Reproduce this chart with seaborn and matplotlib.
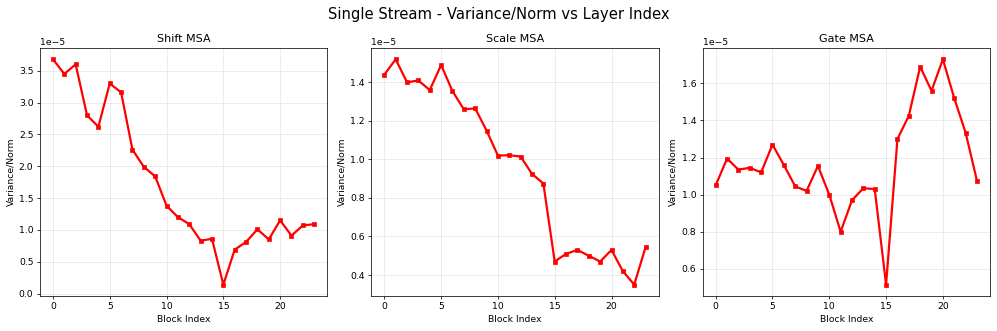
import numpy as np
import pandas as pd
import matplotlib
matplotlib.use('Agg')
import matplotlib.pyplot as plt
import seaborn as sns

# Values (units of 1e-5)
block_index = list(range(24))
shift_msa = [3.68, 3.45, 3.60, 2.80, 2.62, 3.30, 3.16, 2.26, 1.99, 1.84, 1.38, 1.20,
             1.09, 0.83, 0.86, 0.14, 0.69, 0.81, 1.01, 0.85, 1.15, 0.91, 1.07, 1.09]
scale_msa = [1.44, 1.52, 1.40, 1.41, 1.36, 1.49, 1.355, 1.26, 1.265, 1.15, 1.02, 1.022,
             1.015, 0.925, 0.875, 0.47, 0.51, 0.53, 0.50, 0.47, 0.53, 0.42, 0.35, 0.545]
gate_msa = [1.05, 1.195, 1.135, 1.145, 1.12, 1.27, 1.16, 1.045, 1.02, 1.155, 1.00, 0.80,
            0.97, 1.035, 1.03, 0.515, 1.30, 1.425, 1.69, 1.56, 1.73, 1.52, 1.335, 1.075]
titles = ['Shift MSA', 'Scale MSA', 'Gate MSA']

plt.rcParams['font.family'] = ['DejaVu Sans']

fig, axes = plt.subplots(1, 3, figsize=(15, 4.98), dpi=997 / 15)

for ax, vals, title in zip(axes, [shift_msa, scale_msa, gate_msa], titles):
    df = pd.DataFrame({'block': block_index, 'value': np.array(vals) * 1e-5})
    sns.lineplot(data=df, x='block', y='value', ax=ax, color='red', marker='s',
                 markersize=5, linewidth=2.4, markeredgecolor='red')
    ax.set_title(title, fontsize=12)
    ax.set_xlabel('Block Index')
    ax.set_ylabel('Variance/Norm')
    ax.grid(True, alpha=0.3)

fig.suptitle('Single Stream - Variance/Norm vs Layer Index', fontsize=16)
plt.subplots_adjust(left=0.040, right=0.993, top=0.855, bottom=0.106, wspace=0.153)
plt.savefig('out.png')
